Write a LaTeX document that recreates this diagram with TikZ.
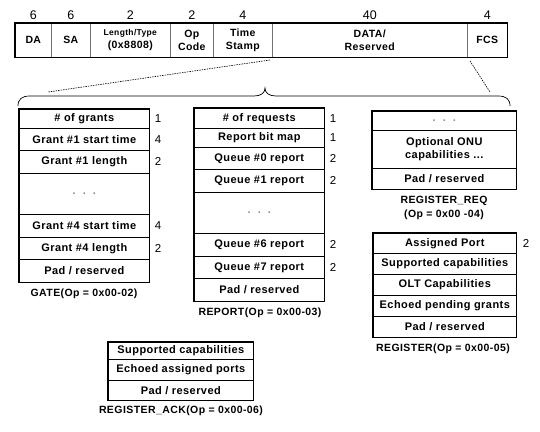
\documentclass[tikz,border=0pt]{standalone}
\usepackage{fontspec}
\setmainfont{Liberation Sans}
\newfontfamily\boxfont[LetterSpace=4]{Liberation Sans}
\begin{document}
\begin{tikzpicture}[x=1pt,y=-1pt,
  row/.style={draw, line width=0.6pt, anchor=north west, inner sep=0pt, align=center,
    font=\boxfont\bfseries\fontsize{11}{12.5}\selectfont},
  cell/.style={draw=black!55, line width=0.6pt, anchor=north west, inner sep=0pt, align=center,
    minimum height=34, font=\boxfont\bfseries\fontsize{10.5}{13}\selectfont},
  outer/.style={line width=1.6pt},
  num/.style={anchor=west, inner sep=0pt, font=\fontsize{11.5}{12}\selectfont},
  topnum/.style={anchor=south, inner sep=0pt, font=\fontsize{12.5}{13}\selectfont},
  caption/.style={inner sep=0pt, font=\boxfont\bfseries\fontsize{10.5}{14}\selectfont},
  dashedline/.style={line width=0.6pt, dash pattern=on 1.5pt off 1pt}]
\useasboundingbox[fill=white] (0,0) rectangle (540,431);

% ---------- top frame ----------
\node[cell, minimum width=36] (da) at (15,23) {DA};
\node[cell, minimum width=39] (sa) at (51,23) {SA};
\node[cell, minimum width=80] (lt) at (90,23) {{\fontsize{8.5}{9}\selectfont Length/Type}\\(0x8808)};
\node[cell, minimum width=43] (op) at (170,23) {Op\\Code};
\node[cell, minimum width=59] (ts) at (213,23) {Time\\Stamp};
\node[cell, minimum width=195] (data) at (272,23) {DATA/\\Reserved};
\node[cell, minimum width=40] (fcs) at (467,23) {FCS};
\draw[outer] (da.north west) rectangle (fcs.south east);
\node[topnum] (n1) at ([yshift=3pt]da.north) {6};
\node[topnum] (n2) at ([yshift=3pt]sa.north) {6};
\node[topnum] (n3) at ([yshift=3pt]lt.north) {2};
\node[topnum] (n4) at ([yshift=3pt]op.north) {2};
\node[topnum] (n5) at ([yshift=3pt]ts.north) {4};
\node[topnum] (n6) at ([yshift=3pt]data.north) {40};
\node[topnum] (n7) at ([yshift=3pt]fcs.north) {4};

% ---------- dashed expansion lines and brace ----------
\coordinate (d1a) at (270,60);
\coordinate (d1b) at (48,92);
\coordinate (d2a) at (470,61);
\coordinate (d2b) at (490,92);
\draw[dashedline] (d1a) -- (d1b);
\draw[dashedline] (d2a) -- (d2b);
\draw[line width=0.7pt] (18,106) .. controls (18,99) and (22,96) .. (30,96) -- (254,96)
  .. controls (261,96) and (265,93) .. (265,88)
  .. controls (265,93) and (269,96) .. (276,96) -- (498,96)
  .. controls (506,96) and (510,99) .. (510,106);

% ---------- GATE ----------
\node[row, minimum width=130, minimum height=19] (g1) at (19,109) {\# of grants};
\node[row, minimum width=130, minimum height=22] (g2) at (19,128) {Grant \#1 start time};
\node[row, minimum width=130, minimum height=23] (g3) at (19,150) {Grant \#1 length};
\node[row, minimum width=130, minimum height=41] (g4) at (19,173) {\textcolor{black!45}{.\ \ .\ \ .}};
\node[row, minimum width=130, minimum height=23] (g5) at (19,214) {Grant \#4 start time};
\node[row, minimum width=130, minimum height=22] (g6) at (19,237) {Grant \#4 length};
\node[row, minimum width=130, minimum height=23] (g7) at (19,259) {Pad / reserved};
\draw[outer] (g1.north west) rectangle (g7.south east);
\node[num] (g1n) at ([xshift=5pt]g1.east) {1};
\node[num] (g2n) at ([xshift=5pt]g2.east) {4};
\node[num] (g3n) at ([xshift=5pt]g3.east) {2};
\node[num] (g5n) at ([xshift=5pt]g5.east) {4};
\node[num] (g6n) at ([xshift=5pt]g6.east) {2};
\node[caption] (gcap) at (84,294) {GATE(Op = 0x00-02)};

% ---------- REPORT ----------
\node[row, minimum width=130, minimum height=20] (r1) at (194,108) {\# of requests};
\node[row, minimum width=130, minimum height=19] (r2) at (194,128) {Report bit map};
\node[row, minimum width=130, minimum height=22] (r3) at (194,147) {Queue \#0 report};
\node[row, minimum width=130, minimum height=23] (r4) at (194,169) {Queue \#1 report};
\node[row, minimum width=130, minimum height=41] (r5) at (194,192) {\textcolor{black!45}{.\ \ .\ \ .}};
\node[row, minimum width=130, minimum height=23] (r6) at (194,233) {Queue \#6 report};
\node[row, minimum width=130, minimum height=22] (r7) at (194,256) {Queue \#7 report};
\node[row, minimum width=130, minimum height=23] (r8) at (194,278) {Pad / reserved};
\draw[outer] (r1.north west) rectangle (r8.south east);
\node[num] (r1n) at ([xshift=5pt]r1.east) {1};
\node[num] (r2n) at ([xshift=5pt]r2.east) {1};
\node[num] (r3n) at ([xshift=5pt]r3.east) {2};
\node[num] (r4n) at ([xshift=5pt]r4.east) {2};
\node[num] (r6n) at ([xshift=5pt]r6.east) {2};
\node[num] (r7n) at ([xshift=5pt]r7.east) {2};
\node[caption] (rcap) at (260,313) {REPORT(Op = 0x00-03)};

% ---------- REGISTER_REQ ----------
\node[row, minimum width=144, minimum height=19] (q1) at (372,111) {\textcolor{black!45}{.\ \ .\ \ .}};
\node[row, minimum width=144, minimum height=38] (q2) at (372,130) {Optional ONU\\capabilities ...};
\node[row, minimum width=144, minimum height=21] (q3) at (372,168) {Pad / reserved};
\draw[outer] (q1.north west) rectangle (q3.south east);
\node[caption, align=center] (qcap) at (444,208) {REGISTER\_REQ\\(Op = 0x00 -04)};

% ---------- REGISTER ----------
\node[row, minimum width=143, minimum height=20] (s1) at (373,233) {Assigned Port};
\node[row, minimum width=143, minimum height=21] (s2) at (373,253) {Supported capabilities};
\node[row, minimum width=143, minimum height=21] (s3) at (373,274) {OLT Capabilities};
\node[row, minimum width=143, minimum height=21] (s4) at (373,295) {Echoed pending grants};
\node[row, minimum width=143, minimum height=21] (s5) at (373,316) {Pad / reserved};
\draw[outer] (s1.north west) rectangle (s5.south east);
\node[num] (s1n) at ([xshift=6pt]s1.east) {2};
\node[caption] (scap) at (443,349) {REGISTER(Op = 0x00-05)};

% ---------- REGISTER_ACK ----------
\node[row, minimum width=145, minimum height=17] (a1) at (108,342) {Supported capabilities};
\node[row, minimum width=145, minimum height=21] (a2) at (108,359) {Echoed assigned ports};
\node[row, minimum width=145, minimum height=20] (a3) at (108,380) {Pad / reserved};
\draw[outer] (a1.north west) rectangle (a3.south east);
\node[caption] (acap) at (181,411) {REGISTER\_ACK(Op = 0x00-06)};
\end{tikzpicture}
\end{document}
